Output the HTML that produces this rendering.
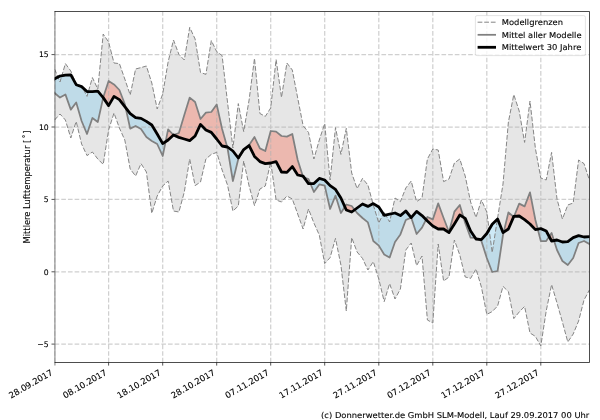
<!DOCTYPE html>
<html lang="de"><head><meta charset="utf-8"><title>Mittlere Lufttemperatur</title>
<style>
html,body{margin:0;padding:0;background:#fff;}
body{width:600px;height:420px;overflow:hidden;}
svg{display:block;}
svg text{white-space:pre;font-family:"DejaVu Sans","Liberation Sans",sans-serif;font-size:8.33px;fill:#000;stroke:#000;stroke-width:0.1px;}
</style></head><body>
<svg width="600" height="420" viewBox="0 0 600 420">
<rect width="600" height="420" fill="#fff"/>
<defs><clipPath id="ax"><rect x="54.6" y="11.5" width="534.9" height="351.0"/></clipPath></defs>
<g clip-path="url(#ax)">
<polygon points="54.6,69.0 60.0,82.0 65.4,63.6 70.8,71.0 76.2,84.0 81.6,86.0 87.0,96.4 92.4,77.6 97.8,89.0 103.2,34.0 108.6,42.0 114.0,63.0 119.4,63.6 124.8,79.0 130.2,95.0 135.6,69.0 141.0,67.6 146.4,66.0 151.8,83.0 157.2,109.0 162.7,94.0 168.1,62.0 173.5,40.0 178.9,54.4 184.3,60.0 189.7,27.4 195.1,39.0 200.5,72.4 205.9,74.4 211.3,40.6 216.7,51.6 222.1,55.6 227.5,102.0 232.9,148.0 238.3,103.6 243.7,131.6 249.1,100.0 254.5,58.4 259.9,113.5 265.3,116.4 270.7,108.0 276.1,59.5 281.5,97.4 286.9,63.0 292.3,70.0 297.7,98.0 303.1,125.6 308.5,132.4 313.9,159.0 319.3,140.0 324.7,123.6 330.1,180.0 335.5,127.6 340.9,154.4 346.3,128.4 351.7,173.0 357.1,188.6 362.5,178.4 367.9,185.0 373.3,205.0 378.8,223.0 384.2,212.0 389.6,222.0 395.0,198.0 400.4,201.6 405.8,188.0 411.2,181.0 416.6,201.6 422.0,198.0 427.4,159.0 432.8,149.0 438.2,150.0 443.6,181.6 449.0,179.0 454.4,163.0 459.8,159.0 465.2,176.0 470.6,202.0 476.0,217.5 481.4,200.0 486.8,212.0 492.2,252.5 497.6,218.0 503.0,184.0 508.4,122.0 513.8,94.6 519.2,111.0 524.6,142.4 530.0,101.0 535.4,148.5 540.8,178.0 546.2,180.0 551.6,152.4 557.0,199.0 562.4,219.0 567.8,205.0 573.2,203.0 578.6,160.0 584.0,163.6 589.4,180.0 589.4,290.0 584.0,300.0 578.6,321.0 573.2,334.0 567.8,342.0 562.4,322.0 557.0,303.0 551.6,284.6 546.2,311.0 540.8,346.0 535.4,336.4 530.0,333.0 524.6,306.4 519.2,312.0 513.8,318.6 508.4,291.6 503.0,286.4 497.6,306.0 492.2,311.6 486.8,314.4 481.4,287.0 476.0,269.0 470.6,278.4 465.2,277.0 459.8,255.0 454.4,240.0 449.0,277.0 443.6,281.0 438.2,244.0 432.8,323.0 427.4,320.0 422.0,256.0 416.6,265.6 411.2,243.0 405.8,250.0 400.4,289.0 395.0,299.0 389.6,283.6 384.2,301.6 378.8,279.0 373.3,261.6 367.9,270.0 362.5,258.4 357.1,252.0 351.7,237.6 346.3,311.0 340.9,265.0 335.5,238.4 330.1,257.6 324.7,263.6 319.3,235.0 313.9,223.0 308.5,209.0 303.1,229.0 297.7,214.0 292.3,199.0 286.9,196.0 281.5,202.0 276.1,200.0 270.7,162.0 265.3,186.0 259.9,189.0 254.5,205.6 249.1,186.0 243.7,161.0 238.3,206.0 232.9,211.0 227.5,185.0 222.1,170.0 216.7,152.4 211.3,154.4 205.9,159.0 200.5,182.0 195.1,185.6 189.7,159.0 184.3,192.0 178.9,212.0 173.5,211.0 168.1,181.0 162.7,186.0 157.2,196.0 151.8,213.3 146.4,172.0 141.0,163.6 135.6,176.0 130.2,169.0 124.8,140.0 119.4,128.0 114.0,113.0 108.6,130.0 103.2,164.4 97.8,159.0 92.4,152.0 87.0,155.6 81.6,144.0 76.2,121.5 70.8,138.0 65.4,120.0 60.0,114.0 54.6,120.0" fill="#808080" fill-opacity="0.2"/>
<path d="M54.6 93.0 L60.0 97.6 L60.0 76.1 L54.6 78.8Z M60.0 97.6 L65.4 94.4 L65.4 75.2 L60.0 76.1Z M65.4 94.4 L70.8 109.6 L70.8 74.8 L65.4 75.2Z M70.8 109.6 L76.2 102.4 L76.2 84.7 L70.8 74.8Z M76.2 102.4 L81.6 121.0 L81.6 86.6 L76.2 84.7Z M81.6 121.0 L87.0 134.0 L87.0 91.5 L81.6 86.6Z M87.0 134.0 L92.4 118.0 L92.4 91.7 L87.0 91.5Z M92.4 118.0 L97.8 122.0 L97.8 91.2 L92.4 91.7Z M97.8 122.0 L103.2 97.6 L103.2 97.6 L97.8 91.2Z M125.6 107.6 L130.2 128.6 L130.2 113.6Z M130.2 128.6 L135.6 126.0 L135.6 117.6 L130.2 113.6Z M135.6 126.0 L141.0 129.0 L141.0 118.4 L135.6 117.6Z M141.0 129.0 L146.4 137.0 L146.4 121.4 L141.0 118.4Z M146.4 137.0 L151.8 141.0 L151.8 125.0 L146.4 121.4Z M151.8 141.0 L157.2 144.0 L157.2 134.0 L151.8 125.0Z M157.2 144.0 L162.7 156.0 L162.7 143.6 L157.2 134.0Z M162.7 156.0 L165.6 141.7 L162.7 143.6Z M227.2 146.9 L227.5 148.0 L227.5 147.0Z M227.5 148.0 L232.9 181.0 L232.9 151.0 L227.5 147.0Z M232.9 181.0 L238.3 159.0 L238.3 158.0 L232.9 151.0Z M238.3 159.0 L243.7 150.0 L243.7 149.6 L238.3 158.0Z M243.7 150.0 L245.8 148.0 L243.7 149.6Z M302.8 176.1 L303.1 177.0 L303.1 176.2Z M303.1 177.0 L303.9 177.3 L303.1 176.2Z M310.4 183.6 L313.9 192.0 L313.9 183.6Z M313.9 192.0 L319.3 184.4 L319.3 178.4 L313.9 183.6Z M319.3 184.4 L324.7 185.6 L324.7 180.0 L319.3 178.4Z M324.7 185.6 L330.1 209.0 L330.1 185.6 L324.7 180.0Z M330.1 209.0 L335.5 195.6 L335.5 189.4 L330.1 185.6Z M335.5 195.6 L340.9 213.0 L340.9 198.0 L335.5 189.4Z M340.9 213.0 L344.9 206.8 L340.9 198.0Z M354.7 209.8 L357.1 213.0 L357.1 208.0Z M357.1 213.0 L362.5 218.0 L362.5 204.0 L357.1 208.0Z M362.5 218.0 L367.9 222.4 L367.9 206.4 L362.5 204.0Z M367.9 222.4 L373.3 241.0 L373.3 203.6 L367.9 206.4Z M373.3 241.0 L378.8 245.6 L378.8 207.0 L373.3 203.6Z M378.8 245.6 L384.2 254.5 L384.2 215.3 L378.8 207.0Z M384.2 254.5 L389.6 257.6 L389.6 214.2 L384.2 215.3Z M389.6 257.6 L395.0 242.0 L395.0 213.0 L389.6 214.2Z M395.0 242.0 L400.4 234.4 L400.4 215.6 L395.0 213.0Z M400.4 234.4 L405.8 220.0 L405.8 211.0 L400.4 215.6Z M405.8 220.0 L411.2 217.6 L411.2 217.6 L405.8 211.0Z M411.2 217.6 L416.6 234.0 L416.6 211.4 L411.2 217.6Z M416.6 234.0 L422.0 227.6 L422.0 215.6 L416.6 211.4Z M422.0 227.6 L426.0 219.7 L422.0 215.6Z M463.5 217.3 L465.2 223.0 L465.2 218.4Z M465.2 223.0 L470.6 237.6 L470.6 231.0 L465.2 218.4Z M470.6 237.6 L475.3 237.9 L470.6 231.0Z M478.2 239.2 L481.4 241.0 L481.4 239.6Z M481.4 241.0 L486.8 258.0 L486.8 233.5 L481.4 239.6Z M486.8 258.0 L492.2 272.0 L492.2 224.2 L486.8 233.5Z M492.2 272.0 L497.6 271.0 L497.6 219.0 L492.2 224.2Z M497.6 271.0 L503.0 235.0 L503.0 232.6 L497.6 219.0Z M503.0 235.0 L503.7 232.1 L503.0 232.6Z M513.6 216.8 L513.8 217.0 L513.8 216.4Z M513.8 217.0 L514.1 216.4 L513.8 216.4Z M537.8 229.2 L540.8 241.0 L540.8 228.6Z M540.8 241.0 L546.2 241.0 L546.2 231.0 L540.8 228.6Z M546.2 241.0 L549.2 236.6 L546.2 231.0Z M554.0 240.6 L557.0 250.0 L557.0 240.0Z M557.0 250.0 L562.4 261.0 L562.4 242.0 L557.0 240.0Z M562.4 261.0 L567.8 265.0 L567.8 241.6 L562.4 242.0Z M567.8 265.0 L573.2 258.0 L573.2 237.6 L567.8 241.6Z M573.2 258.0 L578.6 243.0 L578.6 235.6 L573.2 237.6Z M578.6 243.0 L584.0 241.0 L584.0 237.0 L578.6 235.6Z M584.0 241.0 L589.4 244.0 L589.4 236.6 L584.0 237.0Z" fill="#84cbeb" fill-opacity="0.4"/>
<path d="M103.2 97.6 L108.6 81.0 L108.6 105.6 L103.2 97.6Z M108.6 81.0 L114.0 84.4 L114.0 96.4 L108.6 105.6Z M114.0 84.4 L119.4 90.0 L119.4 99.6 L114.0 96.4Z M119.4 90.0 L124.8 104.0 L124.8 106.6 L119.4 99.6Z M124.8 104.0 L125.6 107.6 L124.8 106.6Z M165.6 141.7 L168.1 129.4 L168.1 140.0Z M168.1 129.4 L173.5 135.0 L173.5 135.0 L168.1 140.0Z M173.5 135.0 L178.9 133.0 L178.9 137.4 L173.5 135.0Z M178.9 133.0 L184.3 115.0 L184.3 139.0 L178.9 137.4Z M184.3 115.0 L189.7 97.6 L189.7 140.6 L184.3 139.0Z M189.7 97.6 L195.1 102.0 L195.1 136.0 L189.7 140.6Z M195.1 102.0 L200.5 119.0 L200.5 124.4 L195.1 136.0Z M200.5 119.0 L205.9 112.6 L205.9 130.0 L200.5 124.4Z M205.9 112.6 L211.3 112.0 L211.3 132.4 L205.9 130.0Z M211.3 112.0 L216.7 104.4 L216.7 139.0 L211.3 132.4Z M216.7 104.4 L222.1 129.0 L222.1 146.0 L216.7 139.0Z M222.1 129.0 L227.2 146.9 L222.1 146.0Z M245.8 148.0 L249.1 145.0 L249.1 145.6Z M249.1 145.0 L254.5 137.0 L254.5 156.4 L249.1 145.6Z M254.5 137.0 L259.9 148.4 L259.9 161.6 L254.5 156.4Z M259.9 148.4 L265.3 151.0 L265.3 163.6 L259.9 161.6Z M265.3 151.0 L270.7 131.0 L270.7 163.0 L265.3 163.6Z M270.7 131.0 L276.1 131.6 L276.1 161.6 L270.7 163.0Z M276.1 131.6 L281.5 136.0 L281.5 172.0 L276.1 161.6Z M281.5 136.0 L286.9 136.6 L286.9 172.4 L281.5 172.0Z M286.9 136.6 L292.3 134.0 L292.3 166.6 L286.9 172.4Z M292.3 134.0 L297.7 160.0 L297.7 175.0 L292.3 166.6Z M297.7 160.0 L302.8 176.1 L297.7 175.0Z M303.9 177.3 L308.5 179.0 L308.5 183.6Z M308.5 179.0 L310.4 183.6 L308.5 183.6Z M344.9 206.8 L346.3 204.5 L346.3 210.0Z M346.3 204.5 L351.7 206.0 L351.7 212.0 L346.3 210.0Z M351.7 206.0 L354.7 209.8 L351.7 212.0Z M426.0 219.7 L427.4 217.0 L427.4 221.0Z M427.4 217.0 L432.8 219.4 L432.8 226.0 L427.4 221.0Z M432.8 219.4 L438.2 203.4 L438.2 229.0 L432.8 226.0Z M438.2 203.4 L443.6 218.0 L443.6 229.0 L438.2 229.0Z M443.6 218.0 L449.0 232.0 L449.0 232.6 L443.6 229.0Z M449.0 232.0 L454.4 211.6 L454.4 224.0 L449.0 232.6Z M454.4 211.6 L459.8 205.0 L459.8 215.0 L454.4 224.0Z M459.8 205.0 L463.5 217.3 L459.8 215.0Z M475.3 237.9 L476.0 238.0 L476.0 239.0Z M476.0 238.0 L478.2 239.2 L476.0 239.0Z M503.7 232.1 L508.4 212.4 L508.4 229.0Z M508.4 212.4 L513.6 216.8 L508.4 229.0Z M514.1 216.4 L519.2 203.6 L519.2 216.0Z M519.2 203.6 L524.6 206.4 L524.6 219.6 L519.2 216.0Z M524.6 206.4 L530.0 192.4 L530.0 224.0 L524.6 219.6Z M530.0 192.4 L535.4 220.0 L535.4 229.6 L530.0 224.0Z M535.4 220.0 L537.8 229.2 L535.4 229.6Z M549.2 236.6 L551.6 233.0 L551.6 241.0Z M551.6 233.0 L554.0 240.6 L551.6 241.0Z" fill="#f5735d" fill-opacity="0.4"/>
<path d="M54.6 362.5 V11.5 M108.6 362.5 V11.5 M162.7 362.5 V11.5 M216.7 362.5 V11.5 M270.7 362.5 V11.5 M324.7 362.5 V11.5 M378.8 362.5 V11.5 M432.8 362.5 V11.5 M486.8 362.5 V11.5 M540.8 362.5 V11.5 M54.6 344.1 H589.5 M54.6 271.8 H589.5 M54.6 199.4 H589.5 M54.6 127.0 H589.5 M54.6 54.6 H589.5" fill="none" stroke="#b0b0b0" stroke-opacity="0.6" stroke-width="1.25" stroke-dasharray="4.65 2.02"/>
<polyline points="54.6,69.0 60.0,82.0 65.4,63.6 70.8,71.0 76.2,84.0 81.6,86.0 87.0,96.4 92.4,77.6 97.8,89.0 103.2,34.0 108.6,42.0 114.0,63.0 119.4,63.6 124.8,79.0 130.2,95.0 135.6,69.0 141.0,67.6 146.4,66.0 151.8,83.0 157.2,109.0 162.7,94.0 168.1,62.0 173.5,40.0 178.9,54.4 184.3,60.0 189.7,27.4 195.1,39.0 200.5,72.4 205.9,74.4 211.3,40.6 216.7,51.6 222.1,55.6 227.5,102.0 232.9,148.0 238.3,103.6 243.7,131.6 249.1,100.0 254.5,58.4 259.9,113.5 265.3,116.4 270.7,108.0 276.1,59.5 281.5,97.4 286.9,63.0 292.3,70.0 297.7,98.0 303.1,125.6 308.5,132.4 313.9,159.0 319.3,140.0 324.7,123.6 330.1,180.0 335.5,127.6 340.9,154.4 346.3,128.4 351.7,173.0 357.1,188.6 362.5,178.4 367.9,185.0 373.3,205.0 378.8,223.0 384.2,212.0 389.6,222.0 395.0,198.0 400.4,201.6 405.8,188.0 411.2,181.0 416.6,201.6 422.0,198.0 427.4,159.0 432.8,149.0 438.2,150.0 443.6,181.6 449.0,179.0 454.4,163.0 459.8,159.0 465.2,176.0 470.6,202.0 476.0,217.5 481.4,200.0 486.8,212.0 492.2,252.5 497.6,218.0 503.0,184.0 508.4,122.0 513.8,94.6 519.2,111.0 524.6,142.4 530.0,101.0 535.4,148.5 540.8,178.0 546.2,180.0 551.6,152.4 557.0,199.0 562.4,219.0 567.8,205.0 573.2,203.0 578.6,160.0 584.0,163.6 589.4,180.0" fill="none" stroke="#858585" stroke-width="1.0" stroke-dasharray="4.75 1.87" stroke-linejoin="round"/>
<polyline points="54.6,120.0 60.0,114.0 65.4,120.0 70.8,138.0 76.2,121.5 81.6,144.0 87.0,155.6 92.4,152.0 97.8,159.0 103.2,164.4 108.6,130.0 114.0,113.0 119.4,128.0 124.8,140.0 130.2,169.0 135.6,176.0 141.0,163.6 146.4,172.0 151.8,213.3 157.2,196.0 162.7,186.0 168.1,181.0 173.5,211.0 178.9,212.0 184.3,192.0 189.7,159.0 195.1,185.6 200.5,182.0 205.9,159.0 211.3,154.4 216.7,152.4 222.1,170.0 227.5,185.0 232.9,211.0 238.3,206.0 243.7,161.0 249.1,186.0 254.5,205.6 259.9,189.0 265.3,186.0 270.7,162.0 276.1,200.0 281.5,202.0 286.9,196.0 292.3,199.0 297.7,214.0 303.1,229.0 308.5,209.0 313.9,223.0 319.3,235.0 324.7,263.6 330.1,257.6 335.5,238.4 340.9,265.0 346.3,311.0 351.7,237.6 357.1,252.0 362.5,258.4 367.9,270.0 373.3,261.6 378.8,279.0 384.2,301.6 389.6,283.6 395.0,299.0 400.4,289.0 405.8,250.0 411.2,243.0 416.6,265.6 422.0,256.0 427.4,320.0 432.8,323.0 438.2,244.0 443.6,281.0 449.0,277.0 454.4,240.0 459.8,255.0 465.2,277.0 470.6,278.4 476.0,269.0 481.4,287.0 486.8,314.4 492.2,311.6 497.6,306.0 503.0,286.4 508.4,291.6 513.8,318.6 519.2,312.0 524.6,306.4 530.0,333.0 535.4,336.4 540.8,346.0 546.2,311.0 551.6,284.6 557.0,303.0 562.4,322.0 567.8,342.0 573.2,334.0 578.6,321.0 584.0,300.0 589.4,290.0" fill="none" stroke="#858585" stroke-width="1.0" stroke-dasharray="4.75 1.87" stroke-linejoin="round"/>
<polyline points="54.6,93.0 60.0,97.6 65.4,94.4 70.8,109.6 76.2,102.4 81.6,121.0 87.0,134.0 92.4,118.0 97.8,122.0 103.2,97.6 108.6,81.0 114.0,84.4 119.4,90.0 124.8,104.0 130.2,128.6 135.6,126.0 141.0,129.0 146.4,137.0 151.8,141.0 157.2,144.0 162.7,156.0 168.1,129.4 173.5,135.0 178.9,133.0 184.3,115.0 189.7,97.6 195.1,102.0 200.5,119.0 205.9,112.6 211.3,112.0 216.7,104.4 222.1,129.0 227.5,148.0 232.9,181.0 238.3,159.0 243.7,150.0 249.1,145.0 254.5,137.0 259.9,148.4 265.3,151.0 270.7,131.0 276.1,131.6 281.5,136.0 286.9,136.6 292.3,134.0 297.7,160.0 303.1,177.0 308.5,179.0 313.9,192.0 319.3,184.4 324.7,185.6 330.1,209.0 335.5,195.6 340.9,213.0 346.3,204.5 351.7,206.0 357.1,213.0 362.5,218.0 367.9,222.4 373.3,241.0 378.8,245.6 384.2,254.5 389.6,257.6 395.0,242.0 400.4,234.4 405.8,220.0 411.2,217.6 416.6,234.0 422.0,227.6 427.4,217.0 432.8,219.4 438.2,203.4 443.6,218.0 449.0,232.0 454.4,211.6 459.8,205.0 465.2,223.0 470.6,237.6 476.0,238.0 481.4,241.0 486.8,258.0 492.2,272.0 497.6,271.0 503.0,235.0 508.4,212.4 513.8,217.0 519.2,203.6 524.6,206.4 530.0,192.4 535.4,220.0 540.8,241.0 546.2,241.0 551.6,233.0 557.0,250.0 562.4,261.0 567.8,265.0 573.2,258.0 578.6,243.0 584.0,241.0 589.4,244.0" fill="none" stroke="#808080" stroke-width="1.75" stroke-linejoin="round" stroke-linecap="square"/>
<polyline points="54.6,78.8 60.0,76.1 65.4,75.2 70.8,74.8 76.2,84.7 81.6,86.6 87.0,91.5 92.4,91.7 97.8,91.2 103.2,97.6 108.6,105.6 114.0,96.4 119.4,99.6 124.8,106.6 130.2,113.6 135.6,117.6 141.0,118.4 146.4,121.4 151.8,125.0 157.2,134.0 162.7,143.6 168.1,140.0 173.5,135.0 178.9,137.4 184.3,139.0 189.7,140.6 195.1,136.0 200.5,124.4 205.9,130.0 211.3,132.4 216.7,139.0 222.1,146.0 227.5,147.0 232.9,151.0 238.3,158.0 243.7,149.6 249.1,145.6 254.5,156.4 259.9,161.6 265.3,163.6 270.7,163.0 276.1,161.6 281.5,172.0 286.9,172.4 292.3,166.6 297.7,175.0 303.1,176.2 308.5,183.6 313.9,183.6 319.3,178.4 324.7,180.0 330.1,185.6 335.5,189.4 340.9,198.0 346.3,210.0 351.7,212.0 357.1,208.0 362.5,204.0 367.9,206.4 373.3,203.6 378.8,207.0 384.2,215.3 389.6,214.2 395.0,213.0 400.4,215.6 405.8,211.0 411.2,217.6 416.6,211.4 422.0,215.6 427.4,221.0 432.8,226.0 438.2,229.0 443.6,229.0 449.0,232.6 454.4,224.0 459.8,215.0 465.2,218.4 470.6,231.0 476.0,239.0 481.4,239.6 486.8,233.5 492.2,224.2 497.6,219.0 503.0,232.6 508.4,229.0 513.8,216.4 519.2,216.0 524.6,219.6 530.0,224.0 535.4,229.6 540.8,228.6 546.2,231.0 551.6,241.0 557.0,240.0 562.4,242.0 567.8,241.6 573.2,237.6 578.6,235.6 584.0,237.0 589.4,236.6" fill="none" stroke="#000" stroke-width="2.8" stroke-linejoin="round" stroke-linecap="square"/>
</g>
<path d="M54.6 11.5 H589.5 V362.5 H54.6" fill="none" stroke="#000" stroke-opacity="0.78" stroke-width="0.9"/>
<path d="M54.9 11.1 V365.6" fill="none" stroke="#000" stroke-opacity="0.34" stroke-width="1.5"/>
<path d="M108.6 362.5 v3.1 M162.7 362.5 v3.1 M216.7 362.5 v3.1 M270.7 362.5 v3.1 M324.7 362.5 v3.1 M378.8 362.5 v3.1 M432.8 362.5 v3.1 M486.8 362.5 v3.1 M540.8 362.5 v3.1 M54.6 344.1 h-3.1 M54.6 271.8 h-3.1 M54.6 199.4 h-3.1 M54.6 127.0 h-3.1 M54.6 54.6 h-3.1" fill="none" stroke="#000" stroke-width="0.67"/>
<text x="48.7" y="346.9" text-anchor="end" style="font-size:7.7px">−5</text>
<text x="48.7" y="274.6" text-anchor="end" style="font-size:7.7px">0</text>
<text x="48.7" y="202.2" text-anchor="end" style="font-size:7.7px">5</text>
<text x="48.7" y="129.8" text-anchor="end" style="font-size:7.7px">10</text>
<text x="48.7" y="57.4" text-anchor="end" style="font-size:7.7px">15</text>
<text transform="translate(53.5 374.2) rotate(-30)" text-anchor="end" style="font-size:8.55px">28.09.2017</text>
<text transform="translate(107.5 374.2) rotate(-30)" text-anchor="end" style="font-size:8.55px">08.10.2017</text>
<text transform="translate(161.6 374.2) rotate(-30)" text-anchor="end" style="font-size:8.55px">18.10.2017</text>
<text transform="translate(215.6 374.2) rotate(-30)" text-anchor="end" style="font-size:8.55px">28.10.2017</text>
<text transform="translate(269.6 374.2) rotate(-30)" text-anchor="end" style="font-size:8.55px">07.11.2017</text>
<text transform="translate(323.6 374.2) rotate(-30)" text-anchor="end" style="font-size:8.55px">17.11.2017</text>
<text transform="translate(377.6 374.2) rotate(-30)" text-anchor="end" style="font-size:8.55px">27.11.2017</text>
<text transform="translate(431.7 374.2) rotate(-30)" text-anchor="end" style="font-size:8.55px">07.12.2017</text>
<text transform="translate(485.7 374.2) rotate(-30)" text-anchor="end" style="font-size:8.55px">17.12.2017</text>
<text transform="translate(539.7 374.2) rotate(-30)" text-anchor="end" style="font-size:8.55px">27.12.2017</text>
<text transform="translate(30.0 243.4) rotate(-90)">Mittlere Lufttemperatur [ <tspan dx="-1.45">˚</tspan> <tspan dx="-2.05">]</tspan></text>
<rect x="475.4" y="15.6" width="110" height="40" rx="1.7" ry="1.7" fill="#fff" fill-opacity="0.8" stroke="#ccc" stroke-opacity="0.8" stroke-width="0.67"/>
<path d="M477.6 22.2 H496.0" stroke="#858585" stroke-width="1.0" stroke-dasharray="4.75 1.87" fill="none"/>
<path d="M477.6 34.8 H496.0" stroke="#808080" stroke-width="1.75" fill="none"/>
<path d="M477.6 47.3 H496.0" stroke="#000" stroke-width="2.8" fill="none"/>
<text x="501.8" y="25.1" style="font-size:8px;text-rendering:geometricPrecision" textLength="61.2" lengthAdjust="spacingAndGlyphs">Modellgrenzen</text>
<text x="501.8" y="37.8" style="font-size:8px;text-rendering:geometricPrecision" textLength="79.8" lengthAdjust="spacingAndGlyphs">Mittel aller Modelle</text>
<text x="501.8" y="50.3" style="font-size:8px;text-rendering:geometricPrecision" textLength="79.5" lengthAdjust="spacingAndGlyphs">Mittelwert 30 Jahre</text>
<text x="321.1" y="418.0" style="font-size:8px;text-rendering:geometricPrecision" textLength="268.2" lengthAdjust="spacingAndGlyphs">(c) Donnerwetter.de GmbH SLM-Modell, Lauf 29.09.2017 00 Uhr</text>
</svg>
</body></html>
